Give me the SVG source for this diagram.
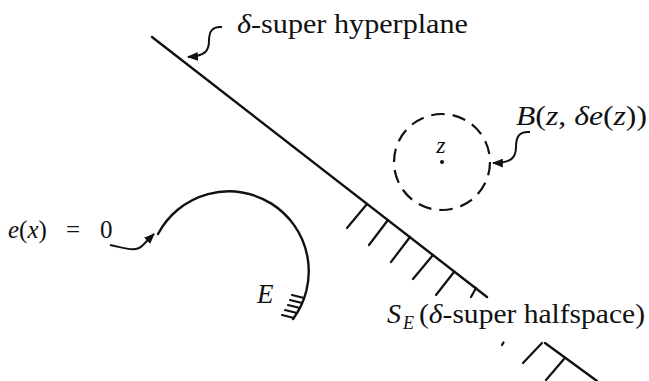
<svg xmlns="http://www.w3.org/2000/svg" width="649" height="381" viewBox="0 0 649 381">
  <style>
    .ln { stroke: #111; stroke-width: 2.4; fill: none; stroke-linecap: round; }
    .tk { stroke: #111; stroke-width: 2.2; fill: none; stroke-linecap: round; }
    .cn { stroke: #111; stroke-width: 2; fill: none; }
  </style>
  <defs>
    <marker id="ah" viewBox="0 0 10 8" refX="9" refY="4" markerWidth="11" markerHeight="9" markerUnits="userSpaceOnUse" orient="auto">
      <path d="M0,0 L10,4 L0,8 z" fill="#111"/>
    </marker>
  </defs>
  <rect width="649" height="381" fill="#fff"/>

  <g id="hyperplane">
    <line class="ln" x1="152" y1="37" x2="487" y2="297"/>
    <line class="ln" x1="545" y1="343" x2="597" y2="381"/>
    <g class="tk">
      <line x1="367" y1="204" x2="347" y2="228"/>
      <line x1="388" y1="220" x2="369" y2="245"/>
      <line x1="410" y1="237" x2="391" y2="262"/>
      <line x1="433" y1="255" x2="413" y2="279"/>
      <line x1="454" y1="272" x2="436" y2="295"/>
      <line x1="476" y1="288" x2="471" y2="297"/>
      <line x1="542" y1="343" x2="523" y2="363"/>
      <line x1="564" y1="359" x2="546" y2="380"/>
      <line x1="502" y1="345" x2="503.5" y2="342.5"/>
    </g>
    <text x="237" y="33" font-family="Liberation Serif" font-size="28" fill="#111" textLength="231" lengthAdjust="spacingAndGlyphs"><tspan font-style="italic">δ</tspan>-super hyperplane</text>
  </g>

  <g id="ball">
    <circle cx="442" cy="162" r="48" fill="none" stroke="#111" stroke-width="2.2" stroke-dasharray="13.5 8"/>
    <circle cx="442" cy="162" r="2" fill="#111"/>
    <text x="441" y="153" font-family="Liberation Serif" font-style="italic" font-size="24" fill="#111" text-anchor="middle">z</text>
    <text x="516" y="125" font-family="Liberation Serif" font-size="27" fill="#111" textLength="131" lengthAdjust="spacingAndGlyphs"><tspan font-style="italic">B</tspan>(<tspan font-style="italic">z</tspan>, <tspan font-style="italic">δe</tspan>(<tspan font-style="italic">z</tspan>))</text>
  </g>

  <g id="set-E">
    <path class="ln" d="M158,234 A80,80 0 1 1 293,319"/>
    <g class="tk" stroke-width="1.8">
      <line x1="304" y1="298" x2="292" y2="295"/>
      <line x1="302" y1="303" x2="290" y2="300"/>
      <line x1="300" y1="308" x2="288" y2="305"/>
      <line x1="297" y1="313" x2="285" y2="310"/>
      <line x1="294" y1="318" x2="282" y2="315"/>
    </g>
    <text x="257" y="303" font-family="Liberation Serif" font-style="italic" font-size="27" fill="#111">E</text>
    <text y="238" font-family="Liberation Serif" font-size="25" fill="#111"><tspan font-style="italic" x="8">e</tspan>(<tspan font-style="italic">x</tspan>)<tspan x="66">=</tspan><tspan x="100">0</tspan></text>
  </g>

  <g id="halfspace">
    <text y="323" font-family="Liberation Serif" font-size="28" fill="#111"><tspan font-style="italic" x="387">S</tspan><tspan font-style="italic" x="403" y="329" font-size="18">E</tspan><tspan x="419" y="323" textLength="226" lengthAdjust="spacingAndGlyphs">(<tspan font-style="italic">δ</tspan>-super halfspace)</tspan></text>
  </g>

  <g id="connectors">
    <path class="cn" marker-end="url(#ah)" d="M222,27 C212,26 209,32 209,41 C209,51 205,56 188,57"/>
    <path class="cn" marker-end="url(#ah)" d="M530,132 C519,131 516,137 516,147 C516,158 511,163 493,163"/>
    <path class="cn" marker-end="url(#ah)" d="M110,245 C125,248 136,253 143,245 L154,234"/>
  </g>
</svg>
